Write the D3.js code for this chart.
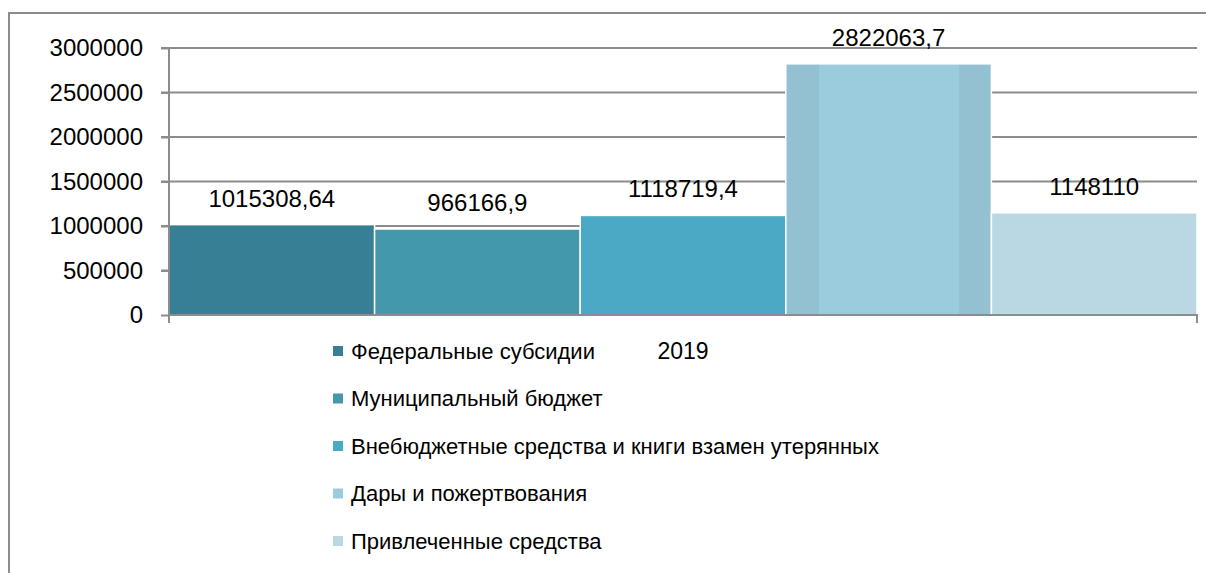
<!DOCTYPE html>
<meta charset="utf-8">
<style>
    body { margin: 0; background: #fff; }
    text { font-family: "Liberation Sans", Arial, sans-serif; fill: #000; }
    .grid line { stroke: #8c8c8c; stroke-width: 2; }
    .axis path, .axis line { stroke: #8c8c8c; stroke-width: 2; }
</style>
<svg width="1206" height="573"></svg>
<script src="https://d3js.org/d3.v7.min.js"></script>
<script>
    var years = ["2019"];
    var series = ["Федеральные субсидии", "Муниципальный бюджет",
        "Внебюджетные средства и книги взамен утерянных",
        "Дары и пожертвования", "Привлеченные средства"];
    var values = [1015308.64, 966166.9, 1118719.4, 2822063.7, 1148110];
    var labels = ["1015308,64", "966166,9", "1118719,4", "2822063,7", "1148110"];
    var yTicks = [0, 500000, 1000000, 1500000, 2000000, 2500000, 3000000];

    var colors = ["#377f94", "#4398ab", "#4aaac6", "#9bccde", "#bad8e4"];

    var svg = d3.select("svg"),
        margin = {left: 169, right: 9, top: 48},
        plotBottom = 315,
        width = 1206 - margin.left - margin.right;

    // outer frame
    svg.append("path")
        .attr("d", "M9,573V13H1206")
        .attr("fill", "none")
        .attr("stroke", "#8c8c8c")
        .attr("stroke-width", 2);

    var x0 = d3.scaleBand().domain(years).range([margin.left, margin.left + width]).padding(0);
    var x1 = d3.scaleBand().domain(d3.range(series.length)).range([0, x0.bandwidth()]).padding(0);
    var y = d3.scaleLinear().domain([0, 3000000]).range([plotBottom, margin.top]);

    var defs = svg.append("defs");
    colors.forEach(function (c, i) {
        var g = defs.append("linearGradient").attr("id", "g" + i);
        var dark = d3.rgb(c).darker(0.15).formatHex();
        var stops = i === 3
            ? [[0, dark], [0.16, dark], [0.16, c], [0.84, c], [0.84, dark], [1, dark]]
            : [[0, c], [1, c]];
        stops.forEach(function (s) {
            g.append("stop").attr("offset", s[0]).attr("stop-color", s[1]);
        });
    });

    svg.append("g").attr("class", "grid")
        .selectAll("line")
        .data(yTicks.slice(1))
        .enter().append("line")
        .attr("x1", margin.left - 8)
        .attr("x2", margin.left + width)
        .attr("y1", function (d) { return y(d); })
        .attr("y2", function (d) { return y(d); });

    svg.append("g")
        .selectAll("rect")
        .data(values)
        .enter().append("rect")
        .attr("x", function (d, i) { return x0(years[0]) + x1(i); })
        .attr("y", function (d) { return y(d); })
        .attr("width", x1.bandwidth())
        .attr("height", function (d) { return plotBottom - y(d); })
        .attr("fill", function (d, i) { return "url(#g" + i + ")"; })
        .attr("stroke", "#fff")
        .attr("stroke-width", 1.5);

    svg.append("g")
        .selectAll("text")
        .data(values)
        .enter().append("text")
        .attr("x", function (d, i) { return x0(years[0]) + x1(i) + x1.bandwidth() / 2; })
        .attr("y", function (d) { return y(d) - 18; })
        .attr("text-anchor", "middle")
        .style("font-size", "24px")
        .text(function (d, i) { return labels[i]; });

    // y axis
    var yAxis = svg.append("g").attr("class", "axis")
        .attr("transform", "translate(" + margin.left + ",0)")
        .call(d3.axisLeft(y).tickValues(yTicks).tickFormat(d3.format("d")).tickSize(8).tickPadding(18));
    yAxis.select(".domain").attr("d", "M0," + margin.top + "V" + (plotBottom + 8));
    yAxis.selectAll("text").style("font-size", "24px");

    // x axis
    var xAxis = svg.append("g").attr("class", "axis")
        .attr("transform", "translate(0," + plotBottom + ")");
    xAxis.append("path")
        .attr("d", "M" + margin.left + ",0H" + (margin.left + width) + "V8")
        .attr("fill", "none");
    xAxis.append("text")
        .attr("x", x0(years[0]) + x0.bandwidth() / 2)
        .attr("y", 44)
        .attr("text-anchor", "middle")
        .style("font-size", "23px")
        .text(years[0]);

    // legend
    var legend = svg.append("g")
        .selectAll("g")
        .data(series)
        .enter().append("g")
        .attr("transform", function (d, i) { return "translate(333," + (351 + i * 47.5) + ")"; });

    legend.append("rect")
        .attr("x", 0).attr("y", -5)
        .attr("width", 10).attr("height", 10)
        .attr("fill", function (d, i) { return colors[i]; });

    legend.append("text")
        .attr("x", 18)
        .attr("dy", "0.35em")
        .style("font-size", "22px")
        .text(function (d) { return d; });
</script>
